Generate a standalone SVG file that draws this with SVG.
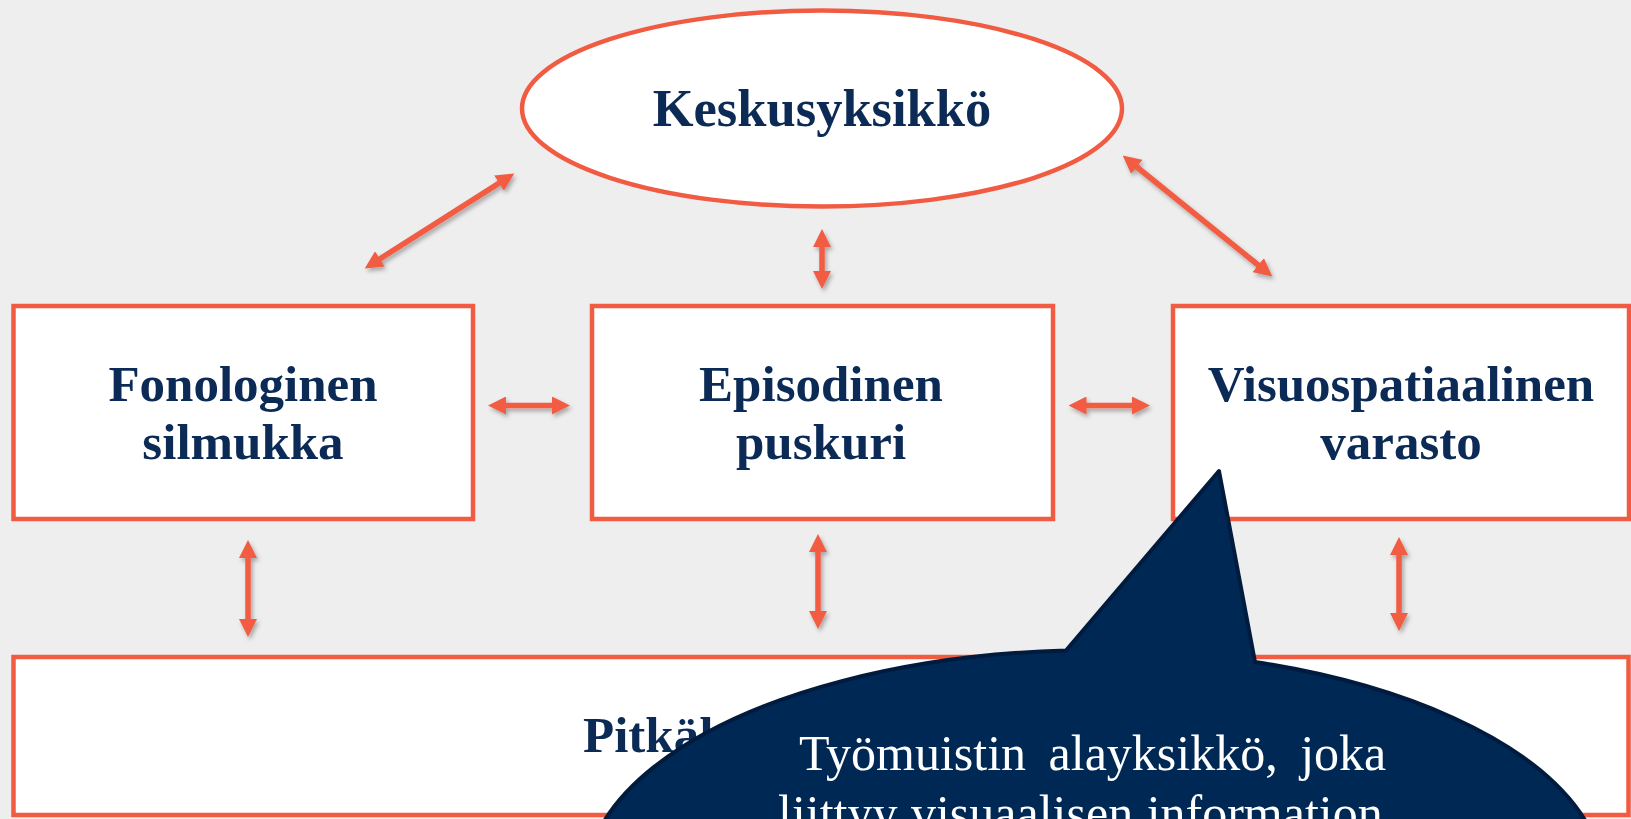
<svg xmlns="http://www.w3.org/2000/svg" width="1631" height="819" viewBox="0 0 1631 819">
  <defs>
    <style>
      .node { fill: #FFFFFF; stroke: #F15B42; stroke-width: 4.5; }
      .lbl { font-family: "Liberation Serif", "DejaVu Serif", serif; font-weight: bold; font-size: 51px; fill: #0B2A55; text-anchor: middle; }
      .conn { stroke: #F15B42; stroke-width: 5.5; fill: none; marker-start: url(#head); marker-end: url(#head); }
      .callout { fill: #002855; stroke: #001B3D; stroke-width: 4; stroke-linejoin: round; }
      .ctext { font-family: "Liberation Serif", "DejaVu Serif", serif; font-size: 50px; fill: #FFFFFF; }
    </style>
    <marker id="head" markerUnits="userSpaceOnUse" markerWidth="18" markerHeight="18" viewBox="0 0 18 18" refX="7" refY="9" orient="auto-start-reverse">
      <path d="M0,0 L18,9 L0,18 z" fill="#F15B42"/>
    </marker>
    <filter id="shadow" x="-20%" y="-20%" width="140%" height="140%">
      <feDropShadow dx="2" dy="3" stdDeviation="2" flood-color="#000000" flood-opacity="0.3"/>
    </filter>
  </defs>

  <rect x="0" y="0" width="1631" height="819" fill="#EEEEEE"/>

  <g id="keskusyksikko">
    <ellipse class="node" cx="822" cy="108.5" rx="300" ry="98"/>
    <text class="lbl" x="822" y="126" style="font-size:52.5px">Keskusyksikkö</text>
  </g>

  <g id="fonologinen-silmukka">
    <rect class="node" x="13.5" y="306" width="459.5" height="213"/>
    <text class="lbl" x="243" y="401">Fonologinen</text>
    <text class="lbl" x="243" y="459">silmukka</text>
  </g>

  <g id="episodinen-puskuri">
    <rect class="node" x="592" y="306" width="461" height="213"/>
    <text class="lbl" x="821" y="401">Episodinen</text>
    <text class="lbl" x="821" y="459">puskuri</text>
  </g>

  <g id="visuospatiaalinen-varasto">
    <rect class="node" x="1173" y="306" width="456" height="213"/>
    <text class="lbl" x="1401" y="401">Visuospatiaalinen</text>
    <text class="lbl" x="1401" y="459">varasto</text>
  </g>

  <g id="pitkakestoinen-muisti">
    <rect class="node" x="13.5" y="657" width="1615" height="158"/>
    <text class="lbl" x="583" y="752" style="text-anchor:start">Pitkäkestoinen muisti</text>
  </g>

  <g id="connectors" filter="url(#shadow)">
    <line class="conn" x1="374" y1="262.6" x2="505" y2="179.4"/>
    <line class="conn" x1="822" y1="240" x2="822" y2="278"/>
    <line class="conn" x1="1131.3" y1="162.5" x2="1263.7" y2="269.5"/>
    <line class="conn" x1="499" y1="405.5" x2="559" y2="405.5"/>
    <line class="conn" x1="1079.5" y1="405.5" x2="1139" y2="405.5"/>
    <line class="conn" x1="248" y1="551" x2="248" y2="626"/>
    <line class="conn" x1="818" y1="545" x2="818" y2="618"/>
    <line class="conn" x1="1399" y1="548" x2="1399" y2="620"/>
  </g>

  <g id="callout">
    <path class="callout" d="M1066,650.5 L1219,471 L1255,662 A510,235 0 1 1 1066,650.5 Z"/>
    <text class="ctext" x="799" y="770" word-spacing="10">Työmuistin alayksikkö, joka</text>
    <text class="ctext" x="778" y="830" word-spacing="1">liittyy visuaalisen information</text>
  </g>
</svg>
